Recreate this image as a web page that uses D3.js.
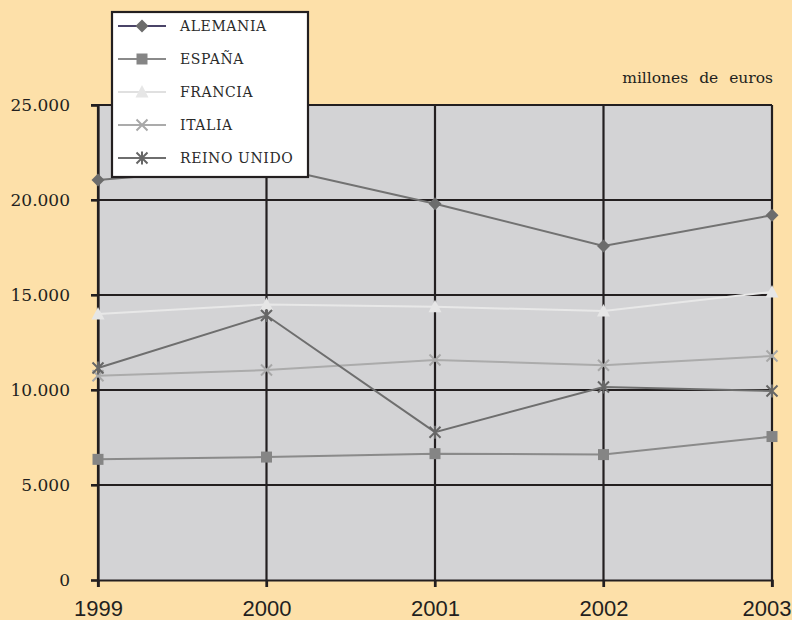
<!DOCTYPE html>
<html><head><meta charset="utf-8">
<script src="https://cdn.jsdelivr.net/npm/d3@7"></script>
<style>
html,body{margin:0;padding:0;background:#fde0a9;}
svg{display:block;}
</style></head>
<body>
<script>
const years = [1999, 2000, 2001, 2002, 2003];
const yTicks = [0, 5000, 10000, 15000, 20000, 25000];
const alemania = [21050, 21800, 19800, 17580, 19200];
const espana = [6350, 6470, 6650, 6600, 7550];
const francia = [14000, 14500, 14380, 14160, 15160];
const italia = [10750, 11050, 11580, 11300, 11790];
const reinoUnido = [11160, 13920, 7780, 10160, 9950];
const seriesNames = ["ALEMANIA", "ESPAÑA", "FRANCIA", "ITALIA", "REINO UNIDO"];
const unitLabel = "millones de euros";

const W = 792, H = 620;
const svg = d3.select("body").append("svg").attr("width", W).attr("height", H);
svg.append("rect").attr("width", W).attr("height", H).attr("fill", "#fde0a9");

const x = d3.scalePoint().domain(years).range([98, 772]);
const y = d3.scaleLinear().domain([0, 25000]).range([580, 105]);

const dark = "#231f20";
svg.append("rect").attr("x", 98).attr("y", 105).attr("width", 674).attr("height", 475).attr("fill", "#d3d3d5");

svg.append("g").selectAll("line").data(yTicks.filter(d => d > 0)).join("line")
  .attr("x1", 91).attr("x2", 772).attr("y1", d => y(d)).attr("y2", d => y(d))
  .attr("stroke", dark).attr("stroke-width", 2.2);
svg.append("g").selectAll("line").data(years).join("line")
  .attr("x1", d => x(d)).attr("x2", d => x(d)).attr("y1", 105).attr("y2", 587)
  .attr("stroke", dark).attr("stroke-width", 2.2);

const fmt = d => d === 0 ? "0" : d3.format(",")(d).replace(/,/g, ".");
const yAxis = d3.axisLeft(y).tickValues(yTicks).tickFormat(fmt).tickSize(7).tickPadding(21);
const gy = svg.append("g").attr("transform", "translate(98,0)").call(yAxis);
gy.select(".domain").attr("stroke", dark).attr("stroke-width", 2.2);
gy.selectAll(".tick line").attr("stroke", dark).attr("stroke-width", 2.2);
gy.selectAll("text").attr("font-family", "DejaVu Serif").attr("font-size", 17).attr("fill", dark);

const xAxis = d3.axisBottom(x).tickSize(7).tickPadding(13).tickFormat(d3.format("d"));
const gx = svg.append("g").attr("transform", "translate(0,580)").call(xAxis);
gx.select(".domain").attr("stroke", dark).attr("stroke-width", 2.2);
gx.selectAll(".tick line").attr("stroke", dark).attr("stroke-width", 2.2);
gx.selectAll("text").attr("font-family", "'Liberation Sans Narrow', 'Liberation Sans'").attr("font-size", 22).attr("fill", dark);
gx.selectAll(".tick").filter(d => d === 2003).select("text").attr("text-anchor", "end").attr("dx", 19);

svg.append("text").attr("x", 773).attr("y", 83).attr("text-anchor", "end")
  .attr("font-family", "DejaVu Serif").attr("font-size", 15.5).attr("fill", dark)
  .attr("word-spacing", 6).text(unitLabel);

const series = [
  {name: seriesNames[0], values: alemania, color: "#727272", legendColor: "#4a4468", marker: "diamond", mcolor: "#6c6c6c"},
  {name: seriesNames[1], values: espana, color: "#8a8a8a", legendColor: "#8a8a8a", marker: "square", mcolor: "#858585"},
  {name: seriesNames[2], values: francia, color: "#e8e8e8", legendColor: "#e0e0e0", marker: "triangle", mcolor: "#e6e6e6"},
  {name: seriesNames[3], values: italia, color: "#ababab", legendColor: "#ababab", marker: "x", mcolor: "#a8a8a8"},
  {name: seriesNames[4], values: reinoUnido, color: "#6e6e6e", legendColor: "#6e6e6e", marker: "star", mcolor: "#666666"}
];

function drawMarker(g, type, cx, cy, color) {
  if (type === "diamond") {
    g.append("path").attr("d", `M${cx},${cy-6.5}L${cx+6.5},${cy}L${cx},${cy+6.5}L${cx-6.5},${cy}Z`).attr("fill", color);
  } else if (type === "square") {
    g.append("rect").attr("x", cx-5.5).attr("y", cy-5.5).attr("width", 11).attr("height", 11).attr("fill", color);
  } else if (type === "triangle") {
    g.append("path").attr("d", `M${cx},${cy-7}L${cx+6.5},${cy+5.5}L${cx-6.5},${cy+5.5}Z`).attr("fill", color);
  } else if (type === "x") {
    g.append("path").attr("d", `M${cx-5.5},${cy-5.5}L${cx+5.5},${cy+5.5}M${cx+5.5},${cy-5.5}L${cx-5.5},${cy+5.5}`).attr("stroke", color).attr("stroke-width", 2);
  } else if (type === "star") {
    g.append("path").attr("d", `M${cx-5.5},${cy-5.5}L${cx+5.5},${cy+5.5}M${cx+5.5},${cy-5.5}L${cx-5.5},${cy+5.5}M${cx},${cy-6.5}L${cx},${cy+6.5}`).attr("stroke", color).attr("stroke-width", 2);
  }
}

const line = d3.line().x((d, i) => x(years[i])).y(d => y(d));
const order = [2, 3, 1, 4, 0];
order.forEach(k => {
  const s = series[k];
  const g = svg.append("g");
  g.append("path").attr("d", line(s.values)).attr("fill", "none").attr("stroke", s.color).attr("stroke-width", 2);
  s.values.forEach((v, i) => drawMarker(g, s.marker, x(years[i]), y(v), s.mcolor));
});

const lg = svg.append("g");
lg.append("rect").attr("x", 112).attr("y", 12).attr("width", 196).attr("height", 165)
  .attr("fill", "#ffffff").attr("stroke", dark).attr("stroke-width", 2.2);
series.forEach((s, i) => {
  const cy = 26 + i * 33;
  lg.append("line").attr("x1", 118).attr("x2", 166).attr("y1", cy).attr("y2", cy)
    .attr("stroke", s.legendColor).attr("stroke-width", 2);
  drawMarker(lg, s.marker, 142, cy, s.mcolor);
  lg.append("text").attr("x", 180).attr("y", cy + 5).attr("font-family", "DejaVu Serif")
    .attr("font-size", 14).attr("fill", "#2a2a2a").attr("letter-spacing", 0.6).text(s.name);
});
</script>
</body></html>
